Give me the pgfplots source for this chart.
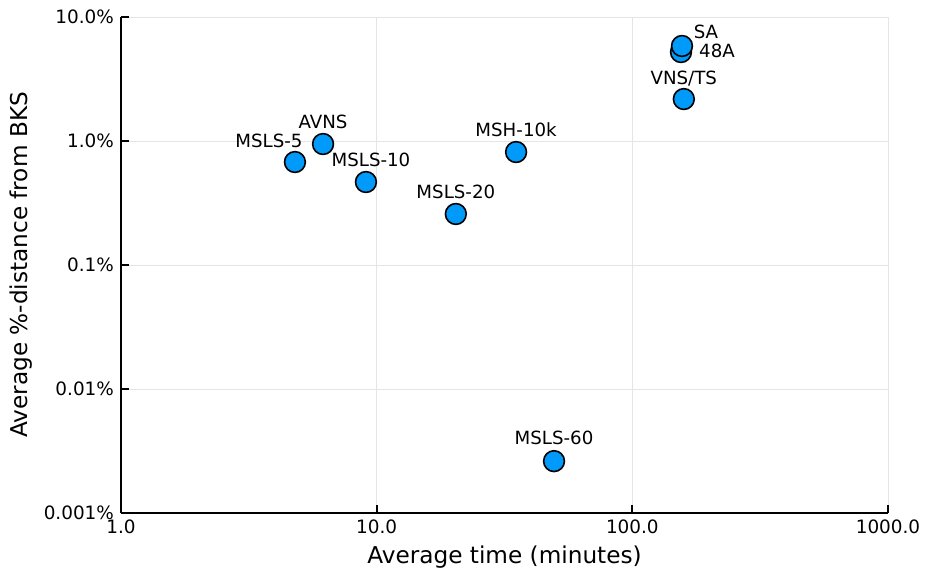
\documentclass[border=0pt]{standalone}
\usepackage{pgfplots}
\pgfplotsset{compat=1.18}
\usepackage{pgfplotstable}
\usepackage{fontspec}
\setmainfont{DejaVu Sans}
\definecolor{jblue}{RGB}{0,154,250}
\pgfplotstableread{
x y label dx dy
4.79 0.677 MSLS-5 -13 10.5
6.17 0.946 AVNS 0 11
9.08 0.467 MSLS-10 2.5 11
20.4 0.258 MSLS-20 0 11
35.1 0.815 MSH-10k 0 11
49.4 0.00262 MSLS-60 0 11.5
159 2.18 VNS/TS 0 10
155 5.22 48A 18 0.5
156.4 5.84 SA 12 7
}\datatable
\begin{document}
\begin{tikzpicture}
\begin{axis}[
  scale only axis,
  width=383.5pt, height=248pt,
  xmode=log, ymode=log,
  xmin=1, xmax=1000, ymin=0.001, ymax=10,
  axis x line*=bottom, axis y line*=left,
  axis line style={line width=1pt, black, -},
  xtick={1,10,100,1000},
  xticklabels={1.0,10.0,100.0,1000.0},
  ytick={0.001,0.01,0.1,1,10},
  yticklabels={0.001\%,0.01\%,0.1\%,1.0\%,10.0\%},
  minor tick style={draw=none},
  tick align=inside,
  major tick length=4pt,
  tick style={line width=1pt, black},
  tick label style={font=\fontsize{9.2pt}{10pt}\selectfont},
  grid=major,
  major grid style={line width=0.5pt, black!10},
  xlabel={Average time (minutes)},
  ylabel={Average \%-distance from BKS},
  label style={font=\fontsize{11.6pt}{13pt}\selectfont},
  xlabel style={at={(axis description cs:0.5,-0.0887)}, anchor=center},
  ylabel style={at={(axis description cs:-0.1304,0.5)}, anchor=center},
  clip=false,
]
\addplot[
  only marks,
  mark=*,
  mark size=5.2pt,
  mark options={fill=jblue, draw=black, line width=0.8pt},
  point meta=explicit symbolic,
  visualization depends on={\thisrow{dx} \as \dx},
  visualization depends on={\thisrow{dy} \as \dy},
  nodes near coords,
  nodes near coords style={anchor=center, xshift=\dx*1pt, yshift=\dy*1pt, font=\fontsize{9.1pt}{10pt}\selectfont, black, inner sep=0pt},
] table[x=x, y=y, meta=label] {\datatable};
\end{axis}
\pgfresetboundingbox
\path[use as bounding box] (-60.5pt,-31pt) rectangle (402pt,256.5pt);
\end{tikzpicture}
\end{document}
